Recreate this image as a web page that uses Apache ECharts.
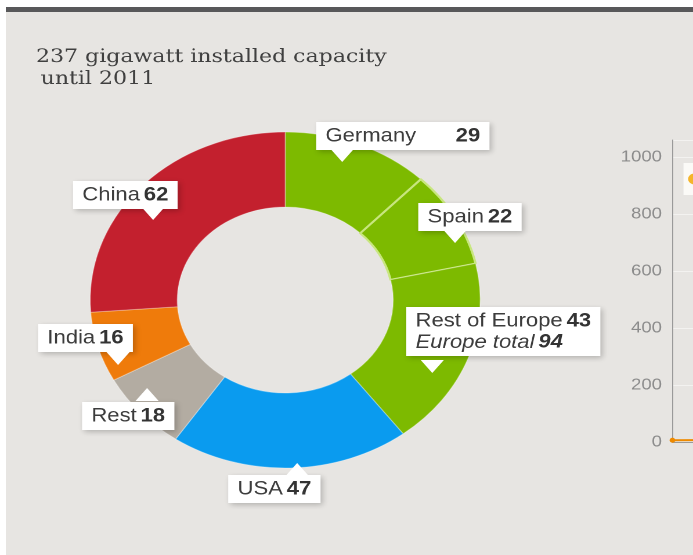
<!DOCTYPE html>
<html><head><meta charset="utf-8">
<script src="https://cdn.jsdelivr.net/npm/echarts@6/dist/echarts.min.js"></script>
<style>
html,body{margin:0;padding:0;background:#fff;width:693px;height:555px;overflow:hidden}
#bg{position:absolute;left:6px;top:7px;right:0;bottom:0;background:#e7e5e2;border-top:5px solid #58585a}
#chart{position:absolute;left:0;top:0;width:597px;height:555px;transform:scaleX(1.1608);transform-origin:0 0}
</style></head><body>
<div id="bg"></div><div id="chart"></div>
<script>
// ---- data ----
const categories = ['Germany', 'Spain', 'Rest of Europe', 'USA', 'Rest', 'India', 'China'];
const values = [29, 22, 43, 47, 18, 16, 62];
const europeNames = ['Germany', 'Spain', 'Rest of Europe'];
const titleLines = ['237 gigawatt installed capacity', 'until 2011'];
const axisMax = 1060;
const axisInterval = 200;
const lineCategories = ['1996', '1997'];
const lineValues = [6, 8];
const lineName = 'Installed capacity';

// ---- styles / layout ----
const colors = ['#7dba00', '#7dba00', '#7dba00', '#0a9bef', '#b3aca2', '#ef7b0b', '#c3202e'];
const labelBox = [[272.4, 122], [360.3, 203], [350, 307], [196.6, 475], [70.7, 402], [32.8, 324], [62.9, 181]];
const pointers = [[294.8, 162, 1], [392, 243, 1], [372.4, 373, 1], [256, 463, -1], [126.7, 388, -1], [101.7, 365, 1], [131.9, 220, 1]];

const europeTotal = values.filter((v, i) => europeNames.includes(categories[i])).reduce((a, b) => a + b, 0);

const chart = echarts.init(document.getElementById('chart'), null, {devicePixelRatio: 2});
const F = 'Liberation Sans, Arial, sans-serif';
chart.setOption({
  animation: false,
  title: {
    text: '{a|' + titleLines[0] + '}\n{b|' + titleLines[1] + '}',
    left: 31, top: 46, padding: 0,
    textStyle: {
      fontWeight: 'normal',
      rich: {
        a: {fontFamily: 'DejaVu Serif', fontWeight: 'normal', fontSize: 19, color: '#404040', lineHeight: 22},
        b: {fontFamily: 'DejaVu Serif', fontWeight: 'normal', fontSize: 19, color: '#404040', lineHeight: 22, padding: [0, 0, 0, 4]}
      }
    }
  },
  legend: {
    left: 588.8, top: 163, backgroundColor: '#fbfaf7', padding: [9, 4], icon: 'circle',
    itemWidth: 11, itemHeight: 11,
    data: [{name: lineName, itemStyle: {color: '#f5b52a'}}],
    textStyle: {fontFamily: F, fontSize: 14, color: '#555'}
  },
  grid: {left: 579.3, top: 140, bottom: 113, width: 300},
  xAxis: {
    type: 'category', data: lineCategories, boundaryGap: false,
    axisLine: {lineStyle: {color: '#9a9a9a'}}, axisTick: {show: false}, axisLabel: {show: false}
  },
  yAxis: {
    type: 'value', min: 0, max: axisMax, interval: axisInterval,
    axisLine: {show: true, lineStyle: {color: '#9a9a9a'}}, axisTick: {show: false},
    splitLine: {lineStyle: {color: '#f3f2f0'}},
    axisLabel: {showMaxLabel: false, color: '#8c8c8c', fontSize: 16, fontFamily: F, margin: 9,
      formatter: v => String(v)}
  },
  graphic: pointers.map(([x, y, d]) => ({
    type: 'polygon', z: 100, silent: true,
    shape: {points: [[x - 10, y - d * 13], [x + 10, y - d * 13], [x, y]]},
    style: {fill: '#ffffff'}
  })),
  series: [
    {
      type: 'line', name: lineName, data: lineValues, color: '#ee8a00',
      symbol: 'circle', symbolSize: 5, lineStyle: {width: 2}
    },
    {
      type: 'pie', center: [245.7, 300], radius: [93, 168], startAngle: 90, clockwise: true,
      avoidLabelOverlap: false, silent: true,
      data: categories.map((n, i) => ({
        name: n, value: values[i],
        itemStyle: {
          color: colors[i],
          borderColor: n === 'Spain' ? '#c8e67f' : 'rgba(255,255,255,0.3)',
          borderWidth: n === 'Spain' ? 2 : 1
        }
      })),
      label: {
        show: true,
        backgroundColor: '#ffffff',
        padding: [4, 8, 3, 8],
        shadowColor: 'rgba(0,0,0,0.22)', shadowBlur: 5, shadowOffsetX: 2, shadowOffsetY: 2,
        formatter: p => {
          if (p.name === 'Rest of Europe') return '{n|' + p.name + '} {v|' + p.value + '}\n{i|Europe total} {iv|' + europeTotal + '}';
          if (p.name === 'Germany') return '{n|' + p.name + '}{vg|' + p.value + '}';
          return '{n|' + p.name + '} {v|' + p.value + '}';
        },
        rich: {
          n: {fontFamily: F, fontSize: 19, color: '#3c3c3c', lineHeight: 21},
          v: {fontFamily: F, fontSize: 19, color: '#333', fontWeight: 'bold', lineHeight: 21},
          vg: {fontFamily: F, fontSize: 19, color: '#333', fontWeight: 'bold', lineHeight: 21, padding: [0, 0, 0, 34]},
          i: {fontFamily: F, fontSize: 19, color: '#3c3c3c', fontStyle: 'italic', lineHeight: 21},
          iv: {fontFamily: F, fontSize: 19, color: '#333', fontStyle: 'italic', fontWeight: 'bold', lineHeight: 21}
        }
      },
      labelLine: {show: false},
      labelLayout: params => ({
        x: labelBox[params.dataIndex][0], y: labelBox[params.dataIndex][1],
        align: 'left', verticalAlign: 'top'
      })
    }
  ]
});
</script>
</body></html>
